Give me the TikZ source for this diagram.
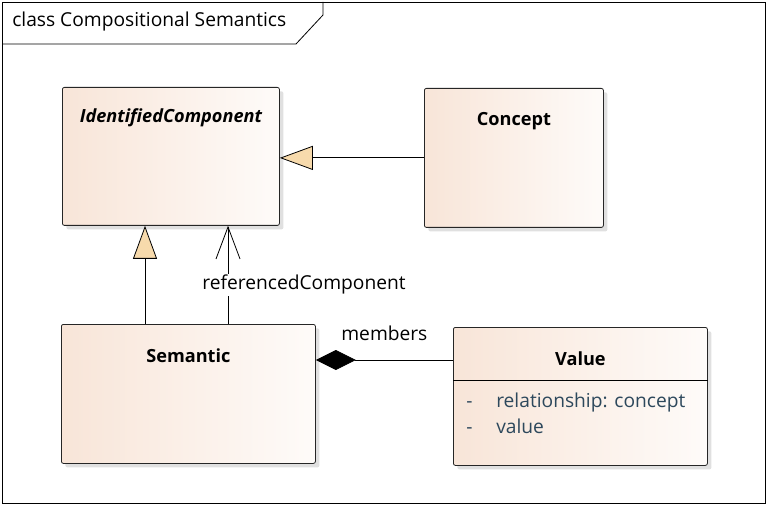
\documentclass[tikz,border=0pt]{standalone}
\usepackage{fontspec}
\setmainfont{Open Sans}
\definecolor{classleft}{RGB}{248,229,216}
\definecolor{classright}{RGB}{254,251,249}
\definecolor{genfill}{RGB}{247,218,172}
\definecolor{attrtext}{RGB}{45,72,92}
\usetikzlibrary{calc, arrows.meta, shadows}
\tikzstyle{classbox} = [
    rectangle,
    rounded corners = 1.5pt,
    anchor = north west,
    inner sep = 0pt,
    draw = black!85,
    line width = 0.6pt,
    left color = classleft,
    right color = classright,
    drop shadow = {shadow xshift=3pt, shadow yshift=-3pt, fill=black!12, opacity=1}
]
\tikzstyle{classname} = [
    font = \fontsize{13.6}{16}\selectfont\bfseries
]
\tikzstyle{attr} = [
    anchor = base west,
    inner sep = 0pt,
    text = attrtext,
    font = \fontsize{14.4}{17}\selectfont
]
\tikzstyle{rolename} = [
    inner sep = 1pt,
    font = \fontsize{14.4}{17}\selectfont
]
\tikzstyle{gen} = [-{Triangle[length=24.75pt, width=18pt, fill=genfill]}, line width=0.6pt]
\tikzstyle{assoc} = [-{Straight Barb[length=24pt, width=18pt]}, line width=0.6pt]
\tikzstyle{compo} = [-{Diamond[length=30pt, width=15pt]}, line width=0.6pt]

\begin{document}
\begin{tikzpicture}[x=0.75pt, y=-0.75pt]
        \useasboundingbox (0,0) rectangle (768,506);

        %% Frame
        \draw[line width=0.6pt] (2,2) rectangle (765,503);
        \draw[line width=0.6pt] (2,44) -- (296,44) -- (323,15) -- (323,2);
        \node (title) [anchor=west, inner sep=0pt, font=\fontsize{14.4}{17}\selectfont] at (12,22) {class Compositional Semantics};

        %% Classes
        \node (ic)       [classbox, minimum width=162.75pt, minimum height=103.5pt]  at (62,87)  {};
        \node (concept)  [classbox, minimum width=134.25pt, minimum height=104.25pt] at (424,88) {};
        \node (semantic) [classbox, minimum width=190.5pt,  minimum height=104.25pt] at (61,324) {};
        \node (value)    [classbox, minimum width=190.5pt,  minimum height=103.5pt]  at (453,327) {};

        \node [classname, font=\fontsize{13.6}{16}\selectfont\bfseries\itshape] at ([yshift=-23pt]ic.north) {IdentifiedComponent};
        \node [classname] at ([yshift=-24.5pt]concept.north) {Concept};
        \node [classname] at ([yshift=-24pt]semantic.north) {Semantic};
        \node [classname] at ([yshift=-23.5pt]value.north) {Value};

        %% Attributes
        \draw[line width=0.6pt] ([yshift=-39.75pt]value.north west) -- ([yshift=-39.75pt]value.north east);
        \node [attr] at ([xshift=9.75pt, yshift=-60pt]value.north west) {-};
        \node [attr] at ([xshift=32.25pt, yshift=-60pt]value.north west) {relationship: concept};
        \node [attr] at ([xshift=9.75pt, yshift=-79.5pt]value.north west) {-};
        \node [attr] at ([xshift=32.25pt, yshift=-79.5pt]value.north west) {value};

        %% Connectors
        \coordinate (genfoot) at (145,324);
        \coordinate (reffoot) at (228,324);
        \coordinate (compend) at (453,360);

        \draw[gen] (concept.west) -- (concept.west -| ic.east);
        \draw[gen] (genfoot) -- (genfoot |- ic.south);
        \draw[assoc] (reffoot) -- node[rolename, fill=white, pos=0.4, xshift=57pt] {referencedComponent} (reffoot |- ic.south);
        \draw[compo] (compend) -- node[rolename, anchor=south, yshift=13pt] {members} (compend -| semantic.east);

    \end{tikzpicture}
\end{document}
